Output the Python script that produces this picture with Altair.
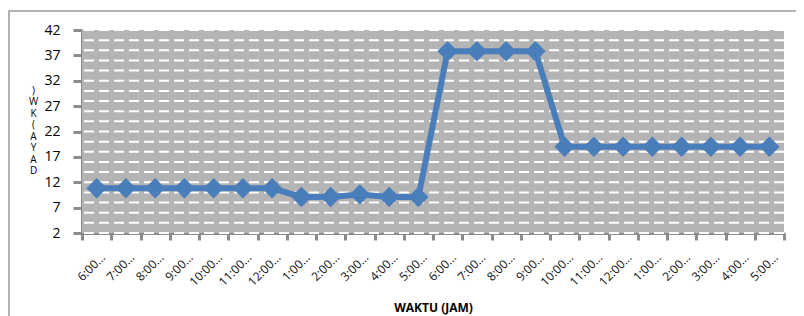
import altair as alt
import pandas as pd

# Categories (hour slots) and displayed tick labels
times = ["6:00 AM", "7:00 AM", "8:00 AM", "9:00 AM", "10:00 AM", "11:00 AM",
         "12:00 PM", "1:00 PM", "2:00 PM", "3:00 PM", "4:00 PM", "5:00 PM",
         "6:00 PM", "7:00 PM", "8:00 PM", "9:00 PM", "10:00 PM", "11:00 PM",
         "12:00 AM", "1:00 AM", "2:00 AM", "3:00 AM", "4:00 AM", "5:00 AM"]
power_kw = [10.8, 10.8, 10.8, 10.8, 10.8, 10.8, 10.8,
            9.1, 9.1, 9.6, 9.1, 9.1,
            37.8, 37.8, 37.8, 37.8,
            19.0, 19.0, 19.0, 19.0, 19.0, 19.0, 19.0, 19.0]
y_ticks = [2, 7, 12, 17, 22, 27, 32, 37, 42]
grid_vals = list(range(2, 43, 2))

df = pd.DataFrame({"t": times, "p": power_kw})
grid_df = pd.DataFrame({"g": grid_vals})

FONT = "Open Sans"

x_axis = alt.Axis(title="WAKTU (JAM)", titleFont=FONT, titleFontSize=12,
                  titleFontWeight="bold", titleColor="#000",
                  titleBaseline="middle", titleY=74,
                  labelAngle=-45, labelAlign="right", labelBaseline="middle",
                  labelFont=FONT, labelFontSize=12, labelColor="#111",
                  labelPadding=15, labelOffset=6,
                  labelExpr="datum.label ? split(datum.label, ' ')[0] + '...' : ''",
                  tickBand="extent", tickSize=7, tickWidth=3, tickColor="#8c8c8c",
                  domainColor="#8c8c8c", domainWidth=3, grid=False)
x_scale = alt.Scale(paddingInner=0, paddingOuter=0)

y_scale = alt.Scale(domain=[2, 42], nice=False, zero=False)
y_axis = alt.Axis(values=y_ticks, title=[")", "W", "K", "(", "A", "Y", "A", "D"],
                  titleAngle=0, titleAlign="center", titleBaseline="top",
                  titleX=-49, titleY=55, titleLineHeight=11.5,
                  titleFont=FONT, titleFontSize=10, titleFontWeight="normal",
                  titleColor="#000",
                  labelFont=FONT, labelFontSize=14, labelColor="#000", labelPadding=13,
                  tickSize=9, tickWidth=3, tickColor="#8c8c8c",
                  domainColor="#8c8c8c", domainWidth=3, grid=False)

frame = alt.Chart(pd.DataFrame({"a": [0]})).mark_rect(
    fill=None, stroke="#9a9a9a", strokeWidth=1.5
).encode(x=alt.value(-73), x2=alt.value(900), y=alt.value(-19), y2=alt.value(500))

bg = alt.Chart(pd.DataFrame({"a": [0]})).mark_rect(fill="#b4b4b4").encode(
    x=alt.value(0), x2=alt.value(702), y=alt.value(0), y2=alt.value(203))

grid = alt.Chart(grid_df).mark_rule(color="white", strokeWidth=2, strokeDash=[10, 5]).encode(
    y=alt.Y("g:Q", scale=y_scale, axis=y_axis))

line = alt.Chart(df).mark_line(color="#4a7ebb", strokeWidth=6).encode(
    x=alt.X("t:N", sort=times, scale=x_scale, axis=x_axis),
    y=alt.Y("p:Q", scale=y_scale, axis=y_axis))

pts = alt.Chart(df).mark_point(shape="diamond", filled=True, size=420,
                               color="#4a7ebb", opacity=1).encode(
    x=alt.X("t:N", sort=times, scale=x_scale, axis=x_axis),
    y=alt.Y("p:Q", scale=y_scale, axis=y_axis))

chart = alt.layer(frame, bg, grid, line, pts).properties(
    width=702, height=203,
    autosize=alt.AutoSizeParams(type="none"),
    padding={"left": 74, "top": 22, "right": 12, "bottom": 83},
    background="white"
).configure_view(stroke=None)

chart.save("out.html", embed_options={"renderer": "svg", "actions": False})
